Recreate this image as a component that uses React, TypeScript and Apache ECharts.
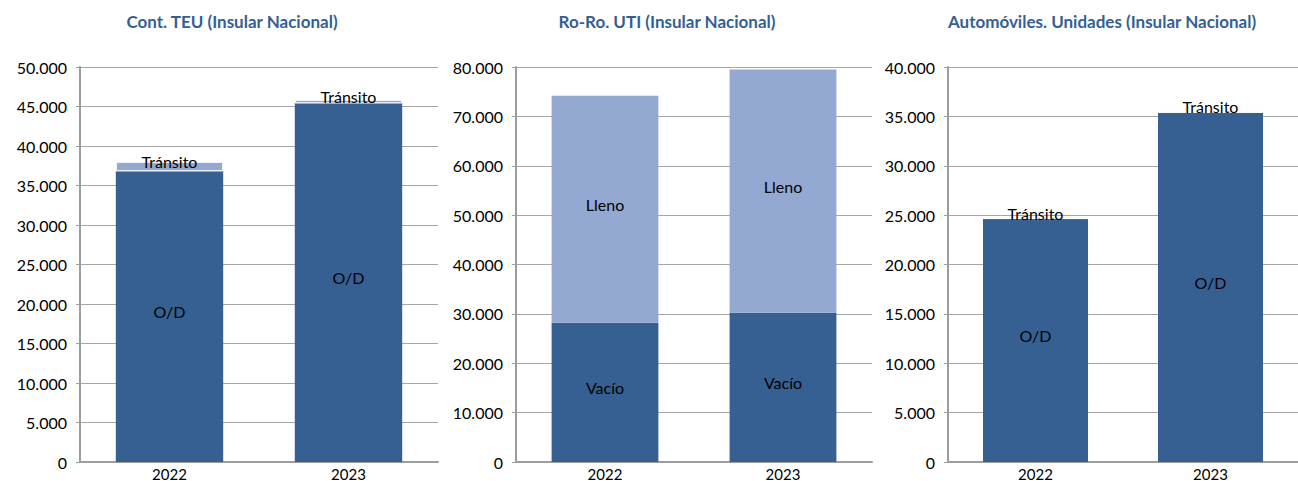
import React, { useEffect, useRef } from "react";
import * as echarts from "echarts";

const years = ["2022", "2023"];

const teuTitle = "Cont. TEU (Insular Nacional)";
const teuOD = [36800, 45400];
const teuTransito = [1200, 450];

const utiTitle = "Ro-Ro. UTI (Insular Nacional)";
const utiVacio = [28200, 30250];
const utiLleno = [46000, 49250];

const autoTitle = "Automóviles. Unidades (Insular Nacional)";
const autoOD = [24600, 35350];
const autoTransito = [200, 200];

const axisMax = [50000, 80000, 40000];
const axisStep = [5000, 10000, 5000];

const DARK = "#376092";
const LIGHT = "#93a9d1";
const FONT = "Lato, 'Noto Sans', sans-serif";

const fmt = (v: number) => String(v).replace(/\B(?=(\d{3})+(?!\d))/g, ".");

export default function App() {
  const ref = useRef<HTMLDivElement>(null);
  useEffect(() => {
    if (!ref.current) return;
    const chart = echarts.init(ref.current, undefined, { renderer: "svg" });

    const grids = [
      { left: 80, top: 67, width: 358, height: 396 },
      { left: 516, top: 67, width: 356, height: 396 },
      { left: 948, top: 67, width: 360, height: 396 },
    ];
    const titles = [
      { text: teuTitle, x: 227 },
      { text: utiTitle, x: 662 },
      { text: autoTitle, x: 1097 },
    ];

    const labelStyle = (off: number) => ({
      show: true,
      position: "inside" as const,
      formatter: "{a}",
      color: "#000",
      fontSize: 16,
      fontFamily: FONT,
      offset: [0, off],
    });

    const mkSeries = (
      idx: number,
      nameA: string,
      dataA: number[],
      nameB: string,
      dataB: number[],
      borderB: boolean
    ) => [
      {
        type: "bar",
        name: nameA,
        xAxisIndex: idx,
        yAxisIndex: idx,
        stack: "s" + idx,
        barWidth: "60%",
        data: dataA,
        itemStyle: { color: DARK },
        label: labelStyle(-5),
      },
      {
        type: "bar",
        name: nameB,
        xAxisIndex: idx,
        yAxisIndex: idx,
        stack: "s" + idx,
        barWidth: "60%",
        data: dataB,
        itemStyle: borderB
          ? { color: LIGHT, borderColor: "#fff", borderWidth: 1 }
          : { color: LIGHT },
        label: labelStyle(-5),
      },
    ];

    chart.setOption({
      animation: false,
      backgroundColor: "#fff",
      title: titles.map((t) => ({
        text: t.text,
        left: t.x,
        top: 8,
        textAlign: "center",
        textStyle: {
          fontSize: 17,
          fontWeight: "bold",
          color: "#355f94",
          fontFamily: FONT,
        },
      })),
      grid: grids,
      xAxis: grids.map((_, i) => ({
        type: "category",
        gridIndex: i,
        data: years,
        axisLine: { lineStyle: { color: "#9d9d9d", width: 2 } },
        axisTick: { show: false },
        axisLabel: { color: "#000", fontSize: 15, fontFamily: FONT, margin: 4 },
      })),
      yAxis: grids.map((_, i) => ({
        type: "value",
        gridIndex: i,
        min: 0,
        max: axisMax[i],
        interval: axisStep[i],
        axisLine: { show: true, lineStyle: { color: "#9d9d9d", width: 2 } },
        axisTick: { show: true, length: 4, lineStyle: { color: "#9d9d9d" } },
        splitLine: { lineStyle: { color: "#a6a6a6", width: 1 } },
        axisLabel: {
          color: "#000",
          fontSize: 16,
          fontFamily: FONT,
          margin: 13,
          padding: [0, 0, 5, 0],
          formatter: (v: number) => fmt(v),
        },
      })),
      series: [
        ...mkSeries(0, "O/D", teuOD, "Tránsito", teuTransito, true),
        ...mkSeries(1, "Vacío", utiVacio, "Lleno", utiLleno, false),
        ...mkSeries(2, "O/D", autoOD, "Tránsito", autoTransito, true),
      ],
    });
    return () => chart.dispose();
  }, []);
  return (
    <div
      ref={ref}
      style={{ position: "fixed", left: 0, top: 0, width: 1298, height: 481 }}
    />
  );
}
